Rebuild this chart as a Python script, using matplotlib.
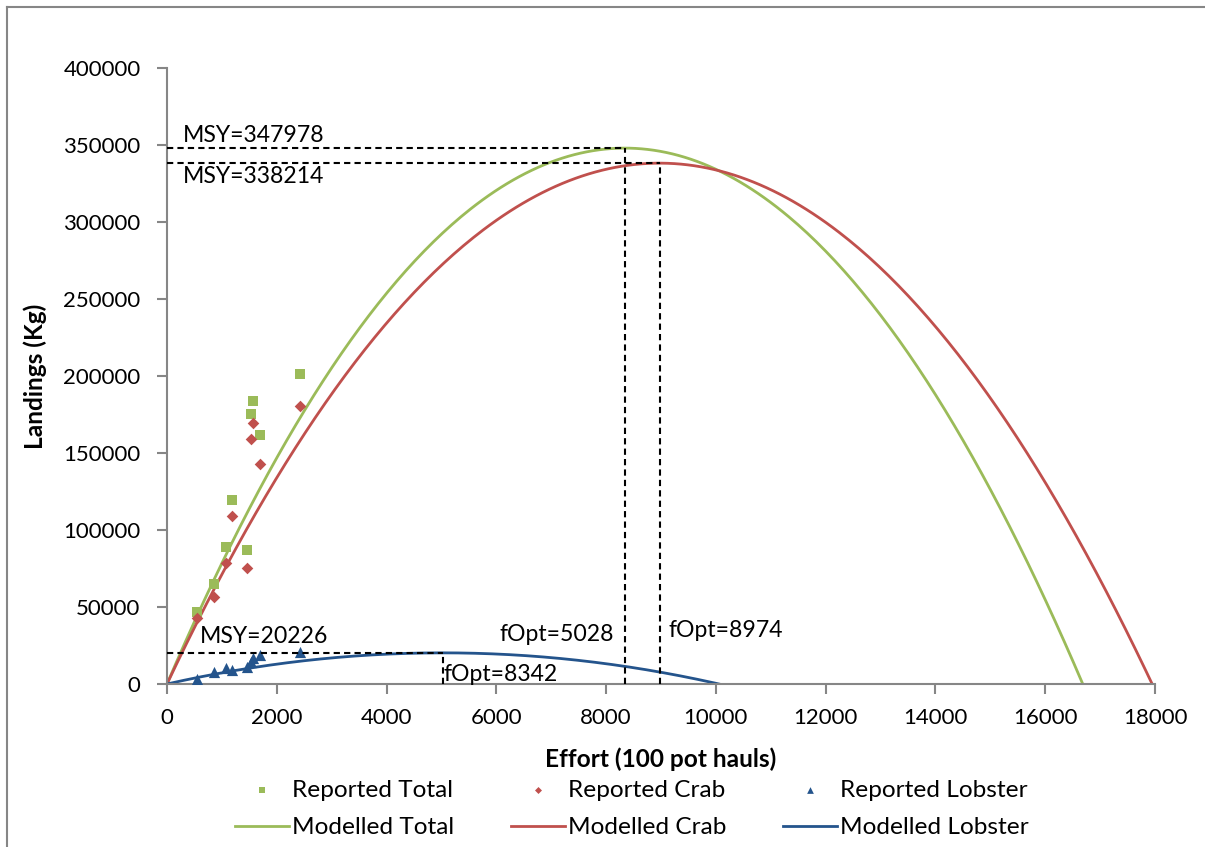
import numpy as np
import matplotlib
matplotlib.use('Agg')
import matplotlib.pyplot as plt
from matplotlib.lines import Line2D
from matplotlib.ticker import MultipleLocator, FuncFormatter

plt.rcParams['font.family'] = ['Lato', 'DejaVu Sans']

# ******************************************************************************
# * Data
# ******************************************************************************
effort = [540, 862, 1069, 1190, 1463, 1530, 1573, 1694, 2423]
reported_total = [46500, 64700, 88800, 119300, 87000, 175300, 183600, 161500, 201500]
reported_crab = [42600, 56300, 78800, 109300, 75300, 158900, 169300, 142900, 180500]
reported_lobster = [3000, 8000, 10200, 9100, 11300, 14500, 16700, 18800, 21000]

# Schaefer model parameters (from the labels)
msy_total, fopt_total = 347978, 8342
msy_crab, fopt_crab = 338214, 8974
msy_lobster, fopt_lobster = 20226, 5028

GREEN = '#9BBB59'
RED = '#C0504D'
BLUE = '#24548C'
GREY = '#868686'


def schaefer(f, msy, fopt):
    return msy * (2 * f / fopt - (f / fopt) ** 2)


fig = plt.figure(figsize=(12.05, 8.47), dpi=100)
ax = fig.add_axes([167 / 1205, 1 - 684 / 847, (1155 - 167) / 1205, (684 - 68) / 847])

# frame around the chart area
fig.add_artist(Line2D([7 / 1205, 1], [1 - 7 / 847] * 2, color=GREY, lw=1.5, transform=fig.transFigure))
fig.add_artist(Line2D([7 / 1205] * 2, [0, 1 - 7 / 847], color=GREY, lw=1.5, transform=fig.transFigure))

# modelled curves
f_tot = np.linspace(0, 2 * fopt_total, 300)
f_crab = np.linspace(0, 2 * fopt_crab, 300)
f_lob = np.linspace(0, 2 * fopt_lobster + 300, 300)
l_mt, = ax.plot(f_tot, schaefer(f_tot, msy_total, fopt_total), color=GREEN, lw=2, label='Modelled Total')
l_mc, = ax.plot(f_crab, schaefer(f_crab, msy_crab, fopt_crab), color=RED, lw=2, label='Modelled Crab')
l_ml, = ax.plot(f_lob, schaefer(f_lob, msy_lobster, fopt_lobster), color=BLUE, lw=2, label='Modelled Lobster')

# reported points
s_rt = ax.scatter(effort, reported_total, marker='s', s=55, color=GREEN, lw=0, zorder=3, label='Reported Total')
s_rc = ax.scatter(effort, reported_crab, marker='D', s=35, color=RED, lw=0, zorder=3, label='Reported Crab')
s_rl = ax.scatter(effort, reported_lobster, marker='^', s=65, color=BLUE, lw=0, zorder=3, label='Reported Lobster')

# MSY / fOpt reference lines
for msy, fopt in [(msy_total, fopt_total), (msy_crab, fopt_crab), (msy_lobster, fopt_lobster)]:
    ax.plot([0, fopt], [msy, msy], color='black', lw=1.5, dashes=(3, 2), zorder=4)
    ax.plot([fopt, fopt], [0, msy], color='black', lw=1.5, dashes=(3, 2), zorder=4)

fs = 16
afs = 16.6
ax.text(285, 352100, 'MSY=347978', fontsize=afs, va='baseline')
ax.text(285, 325100, 'MSY=338214', fontsize=afs, va='baseline')
ax.text(590, 26800, 'MSY=20226', fontsize=afs, va='baseline')
ax.text(8142, 28100, 'fOpt=5028', fontsize=afs, va='baseline', ha='right')
ax.text(9144, 30500, 'fOpt=8974', fontsize=afs, va='baseline')
ax.text(5046, 2000, 'fOpt=8342', fontsize=afs, va='baseline')

# axes formatting
ax.set_xlim(0, 18000)
ax.set_ylim(0, 400000)
ax.xaxis.set_major_locator(MultipleLocator(2000))
ax.yaxis.set_major_locator(MultipleLocator(50000))
ax.yaxis.set_major_formatter(FuncFormatter(lambda v, p: f'{int(v)}'))
ax.xaxis.set_major_formatter(FuncFormatter(lambda v, p: f'{int(v)}'))
for side in ['top', 'right']:
    ax.spines[side].set_visible(False)
for side in ['left', 'bottom']:
    ax.spines[side].set_color(GREY)
    ax.spines[side].set_linewidth(1.5)
ax.tick_params(axis='both', colors=GREY, labelcolor='black', labelsize=fs, length=7, width=1.5, direction='out')
ax.tick_params(axis='y', pad=12)
ax.tick_params(axis='x', pad=10)

ax.set_xlabel('Effort (100 pot hauls)', fontsize=17.6, fontweight='bold', labelpad=14)
ax.set_ylabel('Landings (Kg)', fontsize=17.6, fontweight='bold')
ax.yaxis.set_label_coords(-(167 - 47) / 988, 0.5)

handles = [s_rt, l_mt, s_rc, l_mc, s_rl, l_ml]
fig.legend(handles=handles, labels=[h.get_label() for h in handles], ncol=3, loc='center',
           bbox_to_anchor=(632 / 1205, 1 - 809 / 847), frameon=False, fontsize=17.6,
           handlelength=2.2, handletextpad=0.15, columnspacing=2.3, labelspacing=0.68,
           markerscale=0.6)

fig.savefig('out.png', dpi=100)
